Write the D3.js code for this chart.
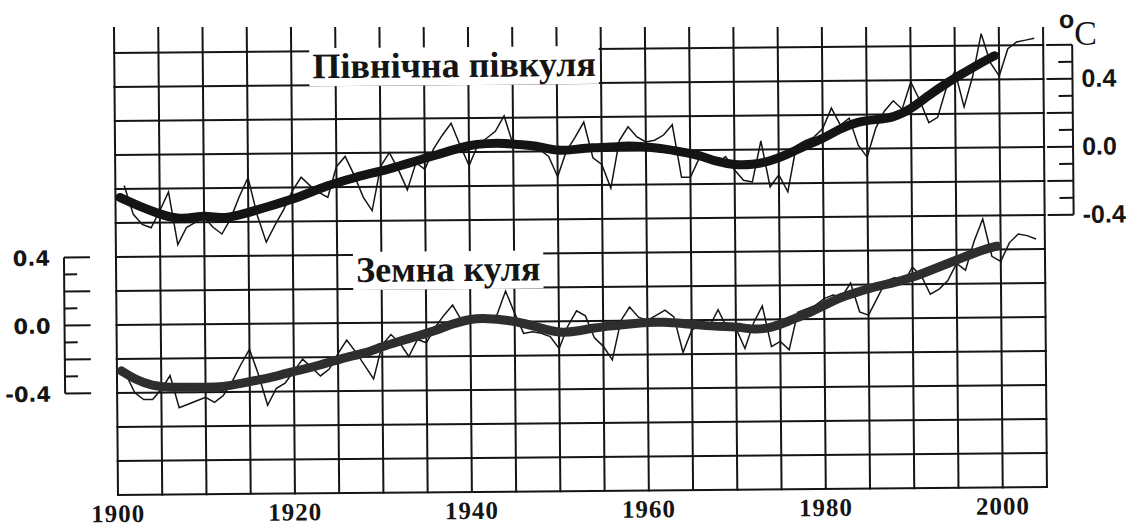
<!DOCTYPE html>
<html><head><meta charset="utf-8">
<script src="https://cdn.jsdelivr.net/npm/d3@7"></script>
<style>html,body{margin:0;padding:0;background:#fff;} svg{display:block;}
.serif{font-family:"Liberation Serif","DejaVu Serif",serif;}
</style>
</head><body>
<svg id="c" width="1143" height="528"></svg>
<script>
// ---------- DATA ----------
const years = d3.range(1901, 2005);
const nhAnnual = [
 -0.18,-0.35,-0.41,-0.43,-0.33,-0.22,-0.53,-0.43,-0.40,-0.37,
 -0.43,-0.47,-0.38,-0.25,-0.14,-0.36,-0.52,-0.42,-0.33,-0.22,
 -0.14,-0.19,-0.23,-0.26,-0.08,-0.02,-0.13,-0.26,-0.34,-0.08,
  0.00,-0.10,-0.22,-0.06,-0.10, 0.02, 0.10, 0.17, 0.04,-0.08,
  0.04, 0.08, 0.12, 0.21, 0.04, 0.03, 0.04, 0.01,-0.03,-0.15,
  0.00, 0.08, 0.17,-0.04,-0.08,-0.22, 0.06, 0.14, 0.08, 0.05,
  0.06, 0.09, 0.15,-0.16,-0.16,-0.05,-0.04,-0.08,-0.04,-0.12,
 -0.18,-0.19, 0.05,-0.22,-0.15,-0.25, 0.02, 0.05, 0.07, 0.12,
  0.24, 0.14, 0.18, 0.02,-0.05, 0.12, 0.22, 0.28, 0.23, 0.39,
  0.28, 0.15, 0.18, 0.35, 0.45, 0.24, 0.42, 0.67, 0.50, 0.42,
  0.58, 0.62, 0.63, 0.64
];
const globalAnnual = [
 -0.29,-0.40,-0.44,-0.44,-0.38,-0.30,-0.49,-0.47,-0.45,-0.43,
 -0.46,-0.42,-0.34,-0.24,-0.15,-0.30,-0.48,-0.38,-0.35,-0.28,
 -0.21,-0.26,-0.31,-0.27,-0.18,-0.10,-0.17,-0.25,-0.33,-0.13,
 -0.07,-0.12,-0.20,-0.10,-0.12,-0.03, 0.04, 0.10, 0.01, 0.00,
  0.02, 0.02, 0.04, 0.18, 0.05,-0.07,-0.06,-0.07,-0.09,-0.16,
 -0.03, 0.06, 0.03,-0.10,-0.15,-0.23, 0.00, 0.08, 0.02, 0.00,
  0.03, 0.06, 0.02,-0.19,-0.06,-0.02,-0.04, 0.06,-0.05,-0.05,
 -0.17,-0.02, 0.08,-0.16,-0.13,-0.18, 0.04, 0.06, 0.08, 0.12,
  0.14, 0.13, 0.21, 0.04, 0.02, 0.12, 0.22, 0.24, 0.21, 0.30,
  0.25, 0.14, 0.17, 0.22, 0.32, 0.28, 0.45, 0.58, 0.36, 0.33,
  0.44, 0.49, 0.48, 0.46
];
const nhSmoothYears = [1900.5,1903,1905,1907,1909,1910,1912,1914,1916,1918,1920,1922,1924,1926,1928,1930,1932,1934,1936,1938,1940,1942,1944,1946,1948,1950,1952,1954,1956,1958,1960,1962,1964,1966,1968,1970,1972,1974,1976,1978,1980,1982,1984,1986,1988,1990,1992,1994,1996,1998,1999.5];
const nhSmooth = [-0.25,-0.31,-0.35,-0.38,-0.37,-0.36,-0.38,-0.36,-0.33,-0.30,-0.27,-0.23,-0.19,-0.16,-0.13,-0.11,-0.08,-0.05,-0.02,0.01,0.04,0.05,0.05,0.04,0.03,0.00,0.01,0.02,0.02,0.03,0.02,0.01,-0.01,-0.03,-0.07,-0.09,-0.09,-0.07,-0.03,0.02,0.06,0.12,0.16,0.17,0.18,0.23,0.31,0.38,0.44,0.50,0.54];
const globalSmoothYears = [1900.5,1902,1904,1906,1908,1910,1912,1914,1916,1918,1920,1922,1924,1926,1928,1930,1932,1934,1936,1938,1940,1942,1944,1946,1948,1950,1952,1954,1956,1958,1960,1962,1964,1966,1968,1970,1972,1974,1976,1978,1980,1982,1984,1986,1988,1990,1992,1994,1996,1998,1999.6];
const globalSmooth = [-0.27,-0.32,-0.36,-0.37,-0.37,-0.37,-0.37,-0.35,-0.33,-0.31,-0.28,-0.26,-0.23,-0.20,-0.18,-0.14,-0.11,-0.08,-0.05,-0.01,0.02,0.02,0.01,-0.01,-0.04,-0.07,-0.06,-0.04,-0.03,-0.02,-0.01,-0.01,-0.02,-0.03,-0.04,-0.04,-0.06,-0.05,-0.01,0.03,0.08,0.13,0.16,0.19,0.21,0.24,0.28,0.32,0.36,0.40,0.42];
const yearTicks = [1900, 1920, 1940, 1960, 1980, 2000];
const leftTickValues = [0.4, 0.0, -0.4];
const leftTickLabels = ["0.4", "0.0", "-0.4"];
const rightTickValues = [0.4, 0.0, -0.4];
const rightTickLabels = ["0.4", "0.0", "-0.4"];
const titleNH = "Північна півкуля";
const titleGlobal = "Земна куля";
const unitDeg = "o", unitC = "C";

// ---------- DRAW ----------
const svg = d3.select("#c");
const tiltDeg = -0.49;
const slope = Math.tan(Math.abs(tiltDeg) * Math.PI / 180);
const root = svg.append("g").attr("transform", `rotate(${tiltDeg},118,495)`);

const x = d3.scaleLinear().domain([1900, 2005]).range([118, 1047]);
const yG = d3.scaleLinear().domain([-1.0, 1.6]).range([495, 53]);
const yN = d3.scaleLinear().domain([-2.0, 0.6]).range([495, 53]);
const ink = "#151515";

// grid
const grid = root.append("g").attr("stroke", ink).attr("stroke-width", 2).attr("fill", "none");
grid.selectAll("line.v").data(d3.range(1900, 2006, 5)).join("line")
  .attr("x1", d => x(d)).attr("x2", d => x(d))
  .attr("y1", d => 27 + (x(d) - 118) * slope).attr("y2", yG(-1.0) + 1);
grid.selectAll("line.h").data(d3.range(0, 14).map(i => -1 + 0.2 * i)).join("line")
  .attr("x1", x(1900) - 1).attr("x2", x(2005) + 1)
  .attr("y1", d => yG(d)).attr("y2", d => yG(d));

// titles with white backing
function title(txt, tx, ty, size) {
  const gg = root.append("g");
  const rect = gg.append("rect").attr("fill", "#fff");
  const t = gg.append("text").attr("class", "serif").attr("x", tx).attr("y", ty)
    .attr("font-weight", "bold").attr("font-size", size).attr("fill", ink).text(txt);
  const b = t.node().getBBox();
  rect.attr("x", b.x - 3).attr("y", b.y + 2).attr("width", b.width + 6).attr("height", b.height - 2);
}
title(titleNH, 316, 80, 36);
title(titleGlobal, 358, 284, 36);

// lines
const line = (xs, ys, yScale, curve) => d3.line()
  .x((d, i) => x(xs[i])).y((d, i) => yScale(ys[i])).curve(curve)(ys);

root.append("path").attr("d", line(years, nhAnnual, yN, d3.curveLinear))
  .attr("fill", "none").attr("stroke", ink).attr("stroke-width", 1.5);
root.append("path").attr("d", line(years, globalAnnual, yG, d3.curveLinear))
  .attr("fill", "none").attr("stroke", ink).attr("stroke-width", 1.5);
root.append("path").attr("d", line(nhSmoothYears, nhSmooth, yN, d3.curveBasis))
  .attr("fill", "none").attr("stroke", "#141414").attr("stroke-width", 9).attr("stroke-linecap", "round");
root.append("path").attr("d", line(globalSmoothYears, globalSmooth, yG, d3.curveBasis))
  .attr("fill", "none").attr("stroke", "#2e2e2e").attr("stroke-width", 9).attr("stroke-linecap", "round");

// left axis (global)
const la = root.append("g").attr("stroke", ink).attr("stroke-width", 2);
la.append("line").attr("x1", 66).attr("x2", 66).attr("y1", yG(0.4)).attr("y2", yG(-0.4));
la.selectAll("line.t").data(d3.range(-4, 5)).join("line")
  .attr("x1", 66).attr("x2", d => (d % 2 === 0) ? 92 : 79)
  .attr("y1", d => yG(d / 10)).attr("y2", d => yG(d / 10));
root.selectAll("text.lt").data(leftTickValues).join("text")
  .attr("x", 52).attr("y", d => yG(d) + 8).attr("text-anchor", "end")
  .attr("font-family", "DejaVu Sans, sans-serif").attr("font-weight", "bold")
  .attr("font-size", 21).attr("fill", ink).text((d, i) => leftTickLabels[i]);

// right axis (northern hemisphere)
const ra = root.append("g").attr("stroke", ink).attr("stroke-width", 2);
ra.append("line").attr("x1", 1076).attr("x2", 1076).attr("y1", yN(0.6)).attr("y2", yN(-0.4));
ra.selectAll("line.t").data(d3.range(-4, 7)).join("line")
  .attr("x1", 1076).attr("x2", d => (d % 2 === 0) ? 1050 : 1062)
  .attr("y1", d => yN(d / 10)).attr("y2", d => yN(d / 10));
root.selectAll("text.rt").data(rightTickValues).join("text")
  .attr("x", 1085).attr("y", d => yN(d) + 8).attr("text-anchor", "start")
  .attr("font-family", "Liberation Sans, Arial, sans-serif").attr("font-weight", "bold")
  .attr("font-size", 25).attr("fill", ink).text((d, i) => rightTickLabels[i]);

// unit
root.append("text").attr("x", 1063).attr("y", 36)
  .attr("font-family", "Liberation Sans, Arial, sans-serif").attr("font-weight", "bold")
  .attr("font-size", 25).attr("fill", ink).text(unitDeg);
root.append("text").attr("class", "serif").attr("x", 1078).attr("y", 53)
  .attr("font-size", 34).attr("fill", ink).text(unitC);

// year labels
root.selectAll("text.yr").data(yearTicks).join("text").attr("class", "serif")
  .attr("x", d => x(d)).attr("y", 522).attr("text-anchor", "middle")
  .attr("font-weight", "bold").attr("font-size", 25).attr("letter-spacing", 1)
  .attr("fill", ink).text(d => d);
</script>
</body></html>
